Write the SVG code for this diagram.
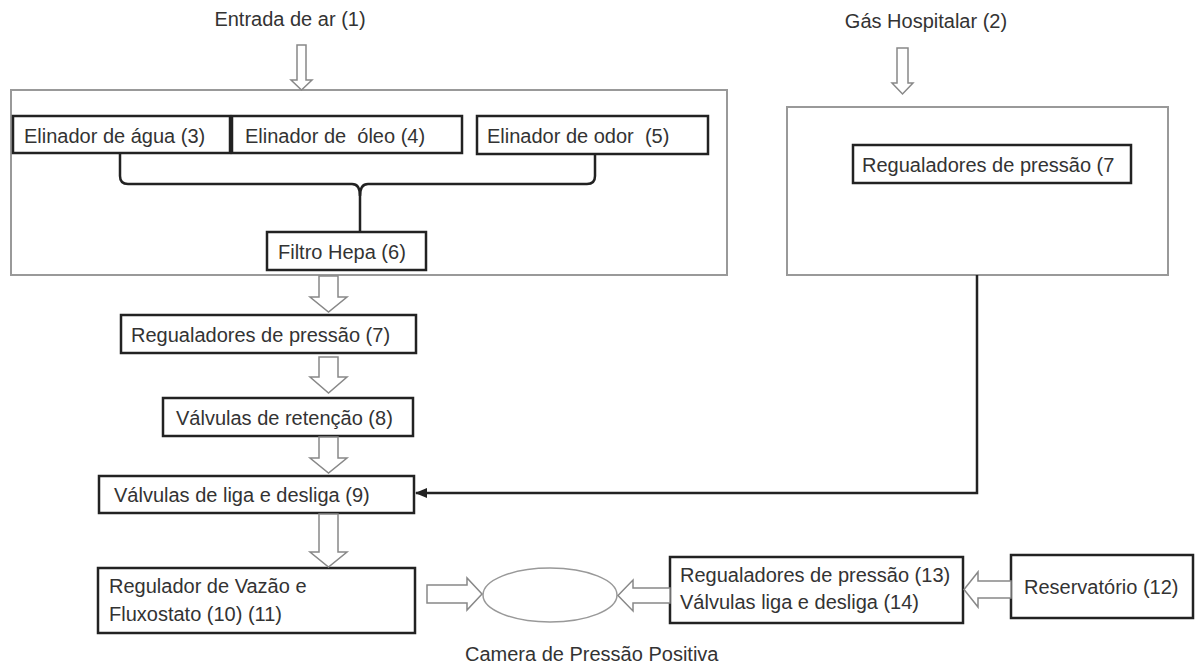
<svg xmlns="http://www.w3.org/2000/svg" width="1200" height="671" viewBox="0 0 1200 671">
  <defs>
    <style>
      text { font-family: "Liberation Sans", Arial, sans-serif; font-size: 20px; fill: #333; }
      .group { fill: #fff; stroke: #999; stroke-width: 2; }
      .box { fill: #fff; stroke: #222; stroke-width: 2.5; }
      .hollow { fill: #fff; stroke: #888; stroke-width: 1.5; stroke-linejoin: miter; }
      .conn { fill: none; stroke: #222; stroke-width: 2.5; }
      .ell { fill: #fff; stroke: #999; stroke-width: 1.5; }
    </style>
    <marker id="ah" viewBox="0 0 10 10" refX="9" refY="5" markerWidth="5" markerHeight="5" orient="auto">
      <path d="M0,1 L10,5 L0,9 z" fill="#222"/>
    </marker>
  </defs>
  <rect width="1200" height="671" fill="#fff"/>

  <g id="entrada-label"><text x="290" y="26" text-anchor="middle">Entrada de ar (1)</text></g>
  <g id="gas-label"><text x="926" y="28" text-anchor="middle">Gás Hospitalar (2)</text></g>

  <g id="group-ar"><rect class="group" x="11" y="90" width="716" height="185"/></g>
  <g id="group-gas"><rect class="group" x="787" y="107" width="381" height="168"/></g>

  <g id="n3"><rect class="box" x="13" y="116" width="217" height="37"/><text x="24" y="143">Elinador de água (3)</text></g>
  <g id="n4"><rect class="box" x="232" y="116" width="230" height="37"/><text x="245" y="143" xml:space="preserve">Elinador de  óleo (4)</text></g>
  <g id="n5"><rect class="box" x="477" y="116" width="231" height="38"/><text x="487" y="143" xml:space="preserve">Elinador de odor  (5)</text></g>
  <g id="n6"><rect class="box" x="267" y="232" width="159" height="38"/><text x="278" y="259">Filtro Hepa (6)</text></g>
  <g id="n7b"><rect class="box" x="853" y="145" width="278" height="38"/><text x="862" y="172">Regualadores de pressão (7</text></g>
  <g id="n7"><rect class="box" x="121" y="315" width="295" height="38"/><text x="131" y="342">Regualadores de pressão (7)</text></g>
  <g id="n8"><rect class="box" x="163" y="398" width="250" height="38"/><text x="176" y="425">Válvulas de retenção (8)</text></g>
  <g id="n9"><rect class="box" x="99" y="476" width="315" height="37"/><text x="114" y="502">Válvulas de liga e desliga (9)</text></g>
  <g id="n10"><rect class="box" x="98" y="568" width="317" height="65"/><text x="109" y="593">Regulador de Vazão e</text><text x="109" y="621">Fluxostato (10) (11)</text></g>
  <g id="camera"><ellipse class="ell" cx="550" cy="595" rx="67" ry="27"/><text x="465" y="661">Camera de Pressão Positiva</text></g>
  <g id="n13"><rect class="box" x="670" y="557" width="293" height="66"/><text x="680" y="582">Regualadores de pressão (13)</text><text x="680" y="609">Válvulas liga e desliga (14)</text></g>
  <g id="n12"><rect class="box" x="1011" y="555" width="182" height="63"/><text x="1024" y="594">Reservatório (12)</text></g>

  <g id="connectors">
    <path class="conn" d="M120,153 L120,176 Q120,184 128,184 L352,184 Q360,184 360,196 L360,232"/>
    <path class="conn" d="M595,154 L595,176 Q595,184 587,184 L368,184 Q360,184 360,196"/>
    <path class="conn" d="M977,275 L977,493 L416,493" marker-end="url(#ah)"/>
    <polygon class="hollow" points="297,45 306,45 306,80 312,80 301.5,90 291,80 297,80"/>
    <polygon class="hollow" points="897,48 908,48 908,83 913,83 902.5,94 892,83 897,83"/>
    <polygon class="hollow" points="319,276 338,276 338,297 347,297 328.5,312 310,297 319,297"/>
    <polygon class="hollow" points="319,357 338,357 338,377 347,377 328.5,393 310,377 319,377"/>
    <polygon class="hollow" points="319,437 338,437 338,458 347,458 328.5,473 310,458 319,458"/>
    <polygon class="hollow" points="319,514 338,514 338,552 347,552 328.5,567 310,552 319,552"/>
    <polygon class="hollow" points="427,585 467,585 467,578 482,594 467,610 467,603 427,603"/>
    <polygon class="hollow" points="670,588 633,588 633,580 618,595.5 633,611 633,603 670,603"/>
    <polygon class="hollow" points="1011,581 978,581 978,572 964,589.5 978,607 978,598 1011,598"/>
  </g>
</svg>
